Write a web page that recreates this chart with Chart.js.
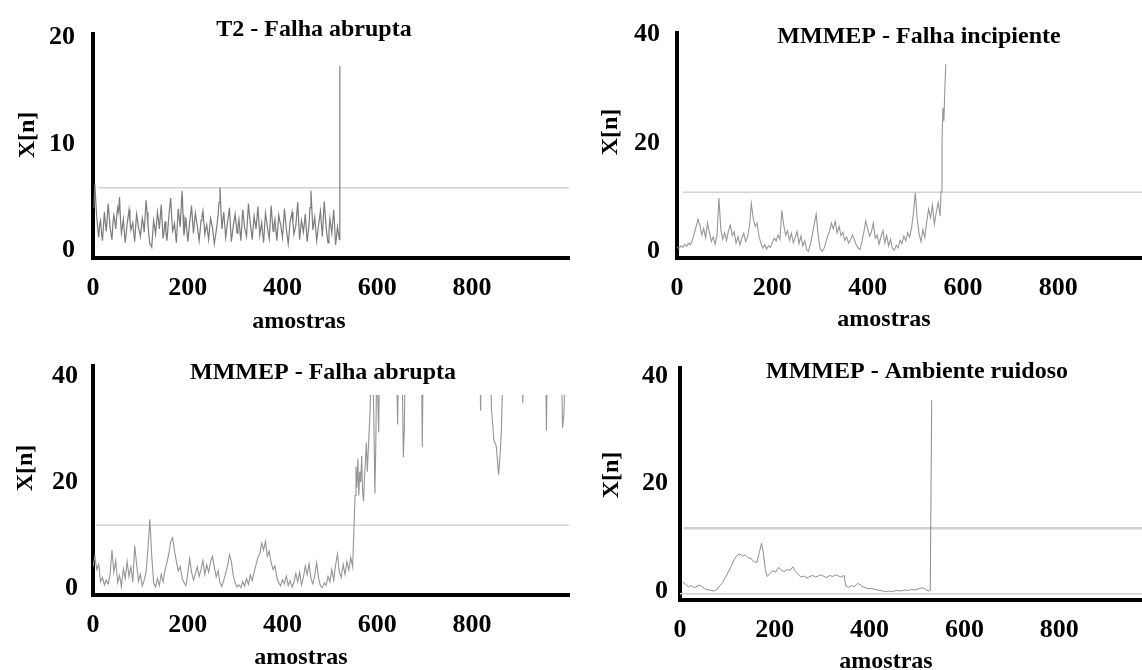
<!DOCTYPE html>
<html>
<head>
<meta charset="utf-8">
<script src="https://cdn.jsdelivr.net/npm/chart.js@4/dist/chart.umd.min.js"></script>
<style>
  html, body { margin: 0; padding: 0; background: #fff; }
  #wrap { position: relative; width: 1142px; height: 670px; overflow: hidden; background: #fff; }
  canvas { position: absolute; }
</style>
</head>
<body>
<div id="wrap">
  <canvas id="c1" width="571" height="335" style="left:0px;top:0px"></canvas>
  <canvas id="c2" width="562" height="335" style="left:580px;top:0px"></canvas>
  <canvas id="c3" width="571" height="335" style="left:0px;top:335px"></canvas>
  <canvas id="c4" width="562" height="335" style="left:580px;top:335px"></canvas>
</div>
<script>
// ---- T2 statistic, abrupt fault ----
const t2Samples = [2,4,6,8,10,12,14,16,18,20,22,24,26,28,30,32,34,36,38,40,42,44,46,48,50,52,54,56,58,60,
  62,64,66,68,70,72,74,76,78,80,82,84,86,88,90,92,94,96,98,100,102,104,106,108,110,112,114,116,118,120,
  122,124,126,128,130,132,134,136,138,140,142,144,146,148,150,152,154,156,158,160,162,164,166,168,170,172,174,176,178,180,
  182,184,186,188,190,192,194,196,198,200,202,204,206,208,210,212,214,216,218,220,222,224,226,228,230,232,234,236,238,240,
  242,244,246,248,250,252,254,256,258,260,262,264,266,268,270,272,274,276,278,280,282,284,286,288,290,292,294,296,298,300,
  302,304,306,308,310,312,314,316,318,320,322,324,326,328,330,332,334,336,338,340,342,344,346,348,350,352,354,356,358,360,
  362,364,366,368,370,372,374,376,378,380,382,384,386,388,390,392,394,396,398,400,402,404,406,408,410,412,414,416,418,420,
  422,424,426,428,430,432,434,436,438,440,442,444,446,448,450,452,454,456,458,460,462,464,466,468,470,472,474,476,478,480,
  482,484,486,488,490,492,494,496,498,500,502,504,506,508,510,512,514,516,518,520,521];
const t2Values = [4.0,6.2,4.5,3.1,2.0,1.2,2.4,2.8,1.6,0.9, 2.2,3.6,2.6,1.8,3.0,4.4,3.3,2.2,1.5,1.0,
  2.5,3.3,2.8,2.0,3.1,4.0,3.6,5.0,2.9,1.6, 2.2,2.9,1.8,0.7,1.5,2.5,3.1,3.8,2.7,1.9,
  2.3,2.6,1.6,0.8,2.2,3.4,2.8,2.1,1.8,1.3, 2.1,3.0,2.5,1.7,3.2,4.7,3.6,2.4,1.4,0.6,
  0.5,0.3,1.6,2.8,2.2,1.5,2.5,3.6,2.9,2.0, 3.1,4.3,2.6,1.1,1.8,2.7,1.7,0.9,2.0,3.2,
  4.1,4.9,3.2,1.8,2.1,2.5,1.6,0.7,2.4,3.9, 3.0,2.2,3.9,5.6,3.3,1.4,2.2,3.1,1.9,0.8,
  1.7,2.6,3.4,4.2,2.8,1.6,2.6,3.5,2.9,2.3, 1.6,0.9,1.8,2.8,3.2,3.7,2.6,1.5,2.0,2.4,
  1.7,1.0,2.0,3.0,2.6,2.2,1.4,0.6,1.2,1.8, 2.5,3.3,4.5,5.9,3.8,2.0,2.8,3.6,2.4,1.2,
  1.9,2.7,3.3,4.0,2.4,0.8,1.5,2.3,2.8,3.4, 2.5,1.6,2.2,2.9,1.9,0.9,2.3,3.8,3.0,2.1,
  1.7,1.3,2.8,4.4,3.4,2.5,1.8,1.0,2.1,3.2, 2.6,2.0,3.0,4.1,2.8,1.4,2.0,2.6,1.6,0.7,
  2.1,3.5,2.9,2.2,1.6,1.1,2.6,4.2,3.0,1.8, 2.3,2.9,1.9,0.9,2.1,3.3,2.8,2.4,1.8,1.2,
  2.5,3.9,3.0,2.0,1.3,0.6,1.6,2.7,3.1,3.6, 2.6,1.5,1.9,2.3,3.4,4.5,2.8,1.0,1.9,2.8,
  2.3,1.7,2.5,3.4,2.1,0.8,1.6,2.5,4.0,5.6, 3.8,1.9,2.5,3.1,2.0,0.9,1.6,2.4,3.0,3.7,
  2.5,1.3,2.9,4.6,3.4,2.1,1.4,0.7,1.8,3.0, 2.3,1.6,2.7,3.8,2.2,0.5,1.3,2.2,1.6,1.0, 17.3];
const t2Limit = 5.87;

// ---- MMMEP, incipient fault ----
const incSamples = [0,4,8,12,16,20,24,28,32,36,40,44,48,52,56,60,64,68,72,76,80,84,88,92,96,100,104,108,112,116,
  120,124,128,132,136,140,144,148,152,156,160,164,168,172,176,180,184,188,192,196,200,204,208,212,216,220,224,228,232,236,
  240,244,248,252,256,260,264,268,272,276,280,284,288,292,296,300,304,308,312,316,320,324,328,332,336,340,344,348,352,356,
  360,364,368,372,376,380,384,388,392,396,400,404,408,412,416,420,424,428,432,436,440,444,448,452,456,460,464,468,472,476,
  480,484,488,492,496,500,504,508,512,516,520,524,528,532,536,540,544,548,552,554,556,558,560,562,564];
const incValues = [0.8,0.5,1.0,0.7,1.3,0.9,1.5,1.2,2.0,3.2, 4.5,5.9,4.8,3.0,4.2,2.5,5.2,3.5,1.8,2.6,
  1.3,3.0,9.8,4.0,2.2,3.4,2.0,3.8,4.8,2.9, 3.6,1.5,2.7,1.2,2.4,3.3,1.8,2.6,4.5,8.8,
  6.0,4.6,5.2,2.8,1.5,0.6,1.2,0.4,1.0,0.7, 1.6,2.4,1.9,3.0,2.2,7.5,4.8,2.9,3.8,2.0,
  3.3,1.6,2.5,3.6,1.4,2.8,1.0,1.9,0.3,0.0, 1.4,3.0,5.0,6.8,3.2,0.6,0.0,0.4,1.5,2.8,
  3.7,5.2,4.1,5.5,3.4,4.6,2.9,3.5,2.0,2.6, 1.5,2.1,3.0,2.2,1.2,0.6,0.3,1.8,3.5,5.6,
  4.2,2.8,3.6,5.2,2.4,3.0,1.3,2.7,3.8,1.6, 2.9,1.0,2.2,0.5,0.2,1.1,0.6,2.0,1.4,2.8,
  1.9,3.4,2.6,4.2,7.0,10.8,6.0,3.2,1.8,4.0, 2.5,5.5,7.8,6.2,8.5,5.0,7.2,9.0,6.5,
  11.0,20.0,26.5,24.0,30.0,34.5];
const incLimit = 10.9;

// ---- MMMEP, abrupt fault ----
const abrSamples = [0,4,8,12,16,20,24,28,32,36,40,44,48,52,56,60,64,68,72,76,80,84,88,92,96,100,104,108,112,116,
  120,124,128,132,136,140,144,148,152,156,160,164,168,172,176,180,184,188,192,196,200,204,208,212,216,220,224,228,232,236,
  240,244,248,252,256,260,264,268,272,276,280,284,288,292,296,300,304,308,312,316,320,324,328,332,336,340,344,348,352,356,
  360,364,368,372,376,380,384,388,392,396,400,404,408,412,416,420,424,428,432,436,440,444,448,452,456,460,464,468,472,476,
  480,484,488,492,496,500,504,508,512,516,520,524,528,532,536,540,544,548,
  551,553,555,557,559,561,563,565,567,569,571,573,575,577,579,581,583,585,587,590,593,595,597,599,601,603,605,
  612,614,616,640,643,645,652,655,657,659,667,693,695,697,816,818,820,838,841,846,851,856,859,862,866,
  905,907,909,955,957,959,988,991,994,997,1006,1008,1010];
const abrValues = [4.0,6.0,3.5,4.5,1.2,2.0,0.6,1.5,0.8,2.5, 7.2,3.0,5.2,1.0,2.4,0.3,3.6,1.8,5.0,2.2,
  4.0,1.1,8.0,4.5,1.3,2.6,0.4,1.5,3.0,7.5, 13.0,6.0,1.0,0.2,1.8,0.5,2.6,1.2,3.4,4.8,
  6.5,8.8,9.5,7.0,5.0,3.2,4.1,2.0,1.0,0.5, 2.8,5.6,3.0,1.5,2.7,4.0,2.2,3.5,5.2,2.6,
  4.4,3.0,5.0,6.0,4.0,2.1,3.3,1.0,0.3,1.5, 2.8,4.2,6.3,5.0,2.4,1.0,0.2,0.6,0.1,1.2,
  0.4,1.8,0.7,2.5,1.4,3.0,4.4,5.8,6.5,8.5, 7.2,8.8,6.0,7.0,4.8,3.5,4.2,2.0,1.0,0.4,
  1.6,0.8,2.3,0.5,1.4,0.2,1.0,2.8,1.2,3.0, 0.6,2.0,4.2,2.5,4.6,1.8,0.8,2.4,4.8,2.0,
  0.4,0.1,1.0,0.5,2.2,1.2,3.5,1.5,4.4,6.4, 3.0,2.0,4.5,2.6,5.0,3.4,5.8,4.0,
  11.9,17.5,23.0,19.0,24.5,17.5,22.0,20.0,25.0,18.5,16.4,21.0,24.0,27.5,22.0,26.0,30.0,34.0,45,45,30.0,17.9,28.0,45,36.0,29.4,45,
  45,38.0,45,45,30.9,45,45,24.7,30.0,45,45,45,26.6,45,45,33.5,45,45,33.9,28.0,26.9,21.4,25.0,30.0,45,
  45,35.0,45,45,29.8,45,45,30.3,33.0,45,45,30.0,45];
const abrLimit = 11.9;
const abrPlotCeiling = 36.5;

// ---- MMMEP, noisy environment ----
const noiSamples = [6,12,18,24,30,36,42,48,54,60,66,72,78,84,90,96,102,108,114,120,126,132,138,144,150,156,162,168,172,176,
  180,184,190,196,202,208,214,220,226,232,238,244,250,256,262,268,274,280,286,292,298,304,310,316,322,328,334,340,346,350,
  356,362,368,374,380,386,392,398,404,410,416,422,428,434,440,446,452,458,464,470,476,482,488,494,500,506,512,518,524,528,531];
const noiValues = [1.7,1.2,0.8,1.0,0.6,0.9,1.1,0.7,0.3,0.2,0.1,0.0,0.3,1.0,1.6,2.6,3.6,4.6,5.8,6.6,6.9,6.5,6.7,6.2,6.0,5.5,5.3,7.4,8.9,7.0,
  4.0,2.7,3.3,3.8,3.5,4.4,3.9,3.6,4.0,3.8,4.5,3.6,3.0,2.6,2.8,2.4,2.7,2.9,2.6,2.8,3.0,2.7,2.5,2.9,2.7,3.0,2.8,2.6,2.9,0.9,
  0.7,1.0,0.8,1.4,1.2,0.8,0.6,0.4,0.5,0.3,0.2,0.1,0.0,-0.1,0.0,-0.1,0.0,0.1,0.0,0.1,0.2,0.1,0.3,0.2,0.3,0.5,0.6,0.3,0.0,0.1,35.5];
const noiLimit = 11.7;
const noiFloor = -0.5;

const FONT = '"Liberation Serif", "Times New Roman", serif';

// Titles and axis names drawn at fixed spots on each panel
const panelText = {
  id: 'panelText',
  afterDraw(chart, args, o) {
    if (!o || !o.title) return;
    const ctx = chart.ctx;
    ctx.save();
    ctx.fillStyle = '#000';
    ctx.textAlign = 'center';
    ctx.textBaseline = 'middle';
    ctx.font = 'bold ' + o.titleSize + 'px ' + FONT;
    ctx.fillText(o.title, o.titleAt[0], o.titleAt[1]);
    ctx.font = 'bold ' + o.axisSize + 'px ' + FONT;
    ctx.fillText(o.xName, o.xNameAt[0], o.xNameAt[1]);
    ctx.translate(o.yNameAt[0], o.yNameAt[1]);
    ctx.rotate(-Math.PI / 2);
    ctx.fillText(o.yName, 0, 0);
    ctx.restore();
  }
};

// Cuts the signal off above a given value
const ceilingClip = {
  id: 'ceilingClip',
  beforeDatasetDraw(chart, args, o) {
    if (!o || o.value == null || args.index !== 0) return;
    const a = chart.chartArea;
    const top = chart.scales.y.getPixelForValue(o.value);
    chart.ctx.save();
    chart.ctx.beginPath();
    chart.ctx.rect(a.left, top, a.right - a.left, a.bottom - top + 4);
    chart.ctx.clip();
  },
  afterDatasetDraw(chart, args, o) {
    if (!o || o.value == null || args.index !== 0) return;
    chart.ctx.restore();
  }
};

const xTickValues = [0, 200, 400, 600, 800];

function pts(xs, ys) { return xs.map((x, i) => ({ x: x, y: ys[i] })); }

function panel(id, p) {
  const cv = document.getElementById(id);
  const H = cv.height;
  const datasets = [
    { data: pts(p.samples, p.values), borderColor: p.lineColor, borderWidth: p.lineWidth,
      pointRadius: 0, tension: 0, order: 0 },
    { data: [{ x: p.limitFrom, y: p.limit }, { x: p.xMax, y: p.limit }],
      borderColor: p.limitColor, borderWidth: p.limitWidth, pointRadius: 0, order: 1 }
  ];
  if (p.floor != null) {
    datasets.push({ data: [{ x: 0, y: p.floor }, { x: p.xMax, y: p.floor }],
      borderColor: '#d2d2d2', borderWidth: 1.5, pointRadius: 0, order: 2 });
  }
  const tickFont = { family: FONT, size: 26, weight: 'bold' };
  return new Chart(cv, {
    type: 'line',
    data: { datasets: datasets },
    plugins: [panelText, ceilingClip],
    options: {
      responsive: false,
      animation: false,
      devicePixelRatio: 1,
      events: [],
      layout: { autoPadding: false, padding: { top: p.area.top, right: cv.width - p.area.right, left: 0, bottom: 0 } },
      plugins: {
        legend: { display: false },
        tooltip: { enabled: false },
        panelText: p.text,
        ceilingClip: { value: p.ceiling }
      },
      scales: {
        x: {
          type: 'linear', min: 0, max: p.xMax,
          afterBuildTicks: s => { s.ticks = xTickValues.map(v => ({ value: v })); },
          afterFit: s => { s.height = H - p.area.bottom; },
          grid: { display: false, drawTicks: false },
          border: { display: true, color: '#000', width: 4 },
          ticks: { color: '#000', font: tickFont, padding: 15, maxRotation: 0, autoSkip: false }
        },
        y: {
          type: 'linear', min: p.yMin, max: p.yMax,
          afterBuildTicks: s => { s.ticks = p.yTicks.map(v => ({ value: v })); },
          afterFit: s => { s.width = p.area.left; },
          grid: { display: false, drawTicks: false },
          border: { display: true, color: '#000', width: 4 },
          ticks: { color: '#000', font: tickFont, padding: p.yPad, autoSkip: false }
        }
      }
    }
  });
}

panel('c1', {
  samples: t2Samples, values: t2Values, lineColor: '#7c7c7c', lineWidth: 1.2,
  limit: t2Limit, limitFrom: 10, limitColor: '#bdbdbd', limitWidth: 1,
  xMax: 1004.6, yMin: -0.73, yMax: 20.37, yTicks: [0, 10, 20], yPad: 18,
  area: { left: 93, top: 28, right: 569, bottom: 258 },
  text: { title: 'T2 - Falha abrupta', titleSize: 24, titleAt: [314, 30],
          axisSize: 24, xName: 'amostras', xNameAt: [299, 322], yName: 'X[n]', yNameAt: [28, 135] }
});

panel('c2', {
  samples: incSamples, values: incValues, lineColor: '#979797', lineWidth: 1.1,
  limit: incLimit, limitFrom: 12, limitColor: '#bdbdbd', limitWidth: 1,
  xMax: 975.7, yMin: -1.25, yMax: 40.36, yTicks: [0, 20, 40], yPad: 17,
  area: { left: 97, top: 25, right: 562, bottom: 258 },
  text: { title: 'MMMEP - Falha incipiente', titleSize: 24, titleAt: [339, 37],
          axisSize: 24, xName: 'amostras', xNameAt: [304, 320], yName: 'X[n]', yNameAt: [31, 132] }
});

panel('c3', {
  samples: abrSamples, values: abrValues, lineColor: '#959595', lineWidth: 1.1,
  limit: abrLimit, limitFrom: 6, limitColor: '#bdbdbd', limitWidth: 1, ceiling: abrPlotCeiling,
  xMax: 1004.6, yMin: -1.30, yMax: 42.05, yTicks: [0, 20, 40], yPad: 15,
  area: { left: 93, top: 27, right: 569, bottom: 260 },
  text: { title: 'MMMEP - Falha abrupta', titleSize: 24, titleAt: [323, 38],
          axisSize: 24, xName: 'amostras', xNameAt: [301, 323], yName: 'X[n]', yNameAt: [26, 133] }
});

panel('c4', {
  samples: noiSamples, values: noiValues, lineColor: '#8c8c8c', lineWidth: 1,
  limit: noiLimit, limitFrom: 8, limitColor: '#d0d0d0', limitWidth: 2.5, floor: noiFloor,
  xMax: 974.7, yMin: -1.67, yMax: 41.49, yTicks: [0, 20, 40], yPad: 12,
  area: { left: 100, top: 33, right: 562, bottom: 265 },
  text: { title: 'MMMEP - Ambiente ruidoso', titleSize: 24, titleAt: [337, 37],
          axisSize: 24, xName: 'amostras', xNameAt: [306, 327], yName: 'X[n]', yNameAt: [32, 140] }
});
</script>
</body>
</html>
